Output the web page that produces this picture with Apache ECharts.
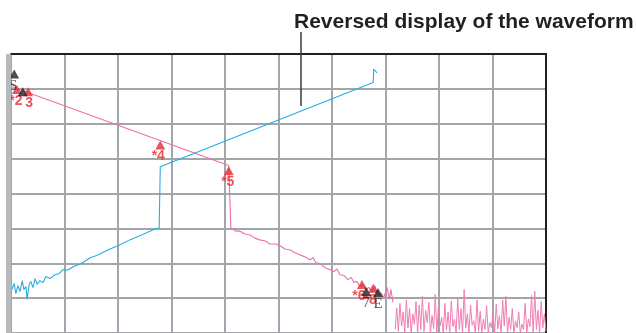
<!DOCTYPE html>
<html><head><meta charset="utf-8">
<script src="https://cdn.jsdelivr.net/npm/echarts@6/dist/echarts.min.js"></script>
<style>html,body{margin:0;padding:0;background:#fff}#c{width:636px;height:333px}</style>
</head><body><div id="c"></div>
<script>
// Axis extents (divisions)
const xDivisions = [0, 10];
const yDivisions = [0, 8];
const titleText = 'Reversed display of the waveform';

// Original trace (pink): [division x, division y]
const pinkTrace = [
  [0.02,7.06],[4.07,4.80],[4.10,4.78],[4.11,3.01],
  [4.21,2.92],[4.28,2.92],[4.37,2.84],[4.47,2.81],[4.56,2.72],[4.65,2.67],[4.75,2.64],
  [4.84,2.55],[4.94,2.55],[5.03,2.50],[5.12,2.41],[5.22,2.38],[5.31,2.30],[5.40,2.24],
  [5.50,2.18],[5.59,2.10],[5.65,2.16],[5.70,2.01],[5.78,1.99],[5.87,1.87],[5.96,1.82],
  [6.04,1.76],[6.09,1.84],[6.15,1.67],[6.22,1.65],[6.30,1.53],[6.36,1.59],[6.41,1.45],
  [6.47,1.48],[6.52,1.33],[6.58,1.39],[6.64,1.25],[6.69,1.31],[6.75,1.16],[6.80,1.36],
  [6.86,1.08],[6.92,1.14],[6.97,1.02],[7.03,1.31],[7.07,0.97],[7.10,1.25],[7.14,0.88]
];
// Noise floor of the original trace
const pinkNoise = [
  [7.18,0.10],[7.21,0.72],[7.24,0.05],[7.27,0.85],[7.30,0.20],[7.33,0.60],[7.36,0.00],[7.39,0.95],
  [7.42,0.15],[7.45,0.70],[7.48,0.00],[7.51,0.55],[7.54,0.25],[7.57,0.90],[7.60,0.00],[7.63,0.80],
  [7.66,0.10],[7.69,1.05],[7.72,0.05],[7.75,0.65],[7.78,0.30],[7.81,0.88],[7.84,0.00],[7.87,0.50],
  [7.90,0.12],[7.93,1.10],[7.96,0.00],[7.99,0.75],[8.02,0.20],[8.05,0.45],[8.08,0.00],[8.11,0.85],
  [8.14,0.08],[8.17,0.60],[8.20,0.00],[8.23,0.92],[8.26,0.18],[8.29,0.40],[8.32,0.00],[8.35,1.00],
  [8.38,0.10],[8.41,0.70],[8.44,0.00],[8.47,1.25],[8.50,0.15],[8.53,0.55],[8.56,0.00],[8.59,0.80],
  [8.62,0.22],[8.65,0.35],[8.68,0.00],[8.71,0.95],[8.74,0.05],[8.77,0.62],[8.80,0.00],[8.83,0.40],
  [8.86,0.10],[8.89,0.78],[8.92,0.00],[8.95,0.30],[8.98,0.15],[9.01,0.55],[9.04,0.00],[9.07,0.82],
  [9.10,0.12],[9.13,0.50],[9.16,0.00],[9.19,0.95],[9.22,0.20],[9.25,1.05],[9.28,0.00],[9.31,0.45],
  [9.34,0.10],[9.37,0.70],[9.40,0.00],[9.43,0.35],[9.46,0.15],[9.49,0.60],[9.52,0.00],[9.55,0.25],
  [9.58,0.10],[9.61,0.85],[9.64,0.00],[9.67,0.40],[9.70,0.18],[9.73,1.08],[9.76,0.00],[9.79,1.20],
  [9.82,0.10],[9.85,0.65],[9.88,0.00],[9.91,0.90],[9.94,0.15],[9.97,0.55],[10.0,0.05]
];
// Reversed trace (blue)
const blueTrace = [
  [0.02,1.25],[0.06,1.42],[0.09,1.13],[0.13,1.36],[0.17,1.19],[0.21,1.50],[0.24,1.25],[0.28,1.33],
  [0.30,0.96],[0.34,1.39],[0.37,1.48],[0.41,1.30],[0.45,1.56],[0.49,1.39],[0.54,1.50],[0.60,1.45],
  [0.65,1.62],[0.73,1.56],[0.82,1.67],[0.90,1.70],[0.97,1.82],[1.05,1.80],[1.20,1.93],[1.30,1.98],
  [1.48,2.16],[1.60,2.22],[1.85,2.41],[2.00,2.50],[2.22,2.67],[2.45,2.82],[2.69,2.98],[2.77,3.01],
  [2.79,4.77],[6.77,7.18],[6.78,7.57],[6.80,7.55],[6.84,7.46]
];
// Event markers
const redMarkers = [
  {name:'*2', value:[0.11,6.98], off:[-1,0]},
  {name:'3',  value:[0.32,6.92], off:[1,0]},
  {name:'*4', value:[2.79,5.39], off:[-2,0]},
  {name:'*5', value:[4.07,4.65], off:[-1,0]},
  {name:'*6', value:[6.56,1.39], off:[-3,0]},
  {name:'*8', value:[6.77,1.28], off:[-3,0]}
];
const blackMarkers = [
  {name:'S', value:[0.06,7.43], off:[-1,0]},
  {name:'',  value:[0.22,6.92], off:[0,0]},
  {name:'7', value:[6.64,1.19], off:[0,0]},
  {name:'E', value:[6.86,1.16], off:[0,0]}
];

const chart = echarts.init(document.getElementById('c'), null, {renderer:'canvas'});
const gridCol = '#a2a6aa';
const mk = (arr, col, z, font, size, weight) => ({
  type:'scatter', symbol:'triangle', symbolSize:[10,9], z:z, silent:true,
  itemStyle:{color:col},
  data: arr.map(d => ({name:d.name, value:d.value,
    label:{show:true, position:'bottom', distance:0, offset:d.off, formatter:'{b}',
      color:col, fontSize:size, fontWeight:weight, fontFamily:font}}))
});
chart.setOption({
  animation:false,
  title:{text:titleText, left:289, top:7,
    textStyle:{fontSize:21, fontWeight:'bold', color:'#231f20', fontFamily:'Liberation Sans, Arial, sans-serif'}},
  grid:{left:11, top:54, width:535, height:282, containLabel:false},
  xAxis:{type:'value', min:xDivisions[0], max:xDivisions[1], interval:1, position:'top',
    axisLine:{show:true, onZero:false, lineStyle:{color:'#231f20', width:2}},
    axisTick:{show:false}, axisLabel:{show:false},
    splitLine:{show:true, lineStyle:{color:gridCol, width:2}}},
  yAxis:{type:'value', min:yDivisions[0], max:yDivisions[1], interval:1, position:'right',
    axisLine:{show:true, onZero:false, lineStyle:{color:'#231f20', width:2}},
    axisTick:{show:false}, axisLabel:{show:false},
    splitLine:{show:true, lineStyle:{color:gridCol, width:2}}},
  series:[
    {type:'line', data:pinkTrace, showSymbol:false, z:3, lineStyle:{color:'#ef6fab', width:1.1}},
    {type:'line', data:pinkNoise, showSymbol:false, z:3, lineStyle:{color:'#f07db2', width:1}},
    {type:'line', data:blueTrace, showSymbol:false, z:4, lineStyle:{color:'#25ade2', width:1.1}},
    mk(redMarkers, '#e62a32', 5, 'Liberation Sans, Arial, sans-serif', 14, 'bold'),
    mk(blackMarkers, '#231f20', 6, 'Liberation Serif, serif', 15, 'normal')
  ],
  graphic:[
    {type:'rect', shape:{x:6, y:54, width:5, height:290}, style:{fill:'#b7babd'}, z:10},
    {type:'line', shape:{x1:301, y1:32, x2:301, y2:106}, style:{stroke:'#3a3a3a', lineWidth:1.5}, z:10}
  ]
});
</script></body></html>
